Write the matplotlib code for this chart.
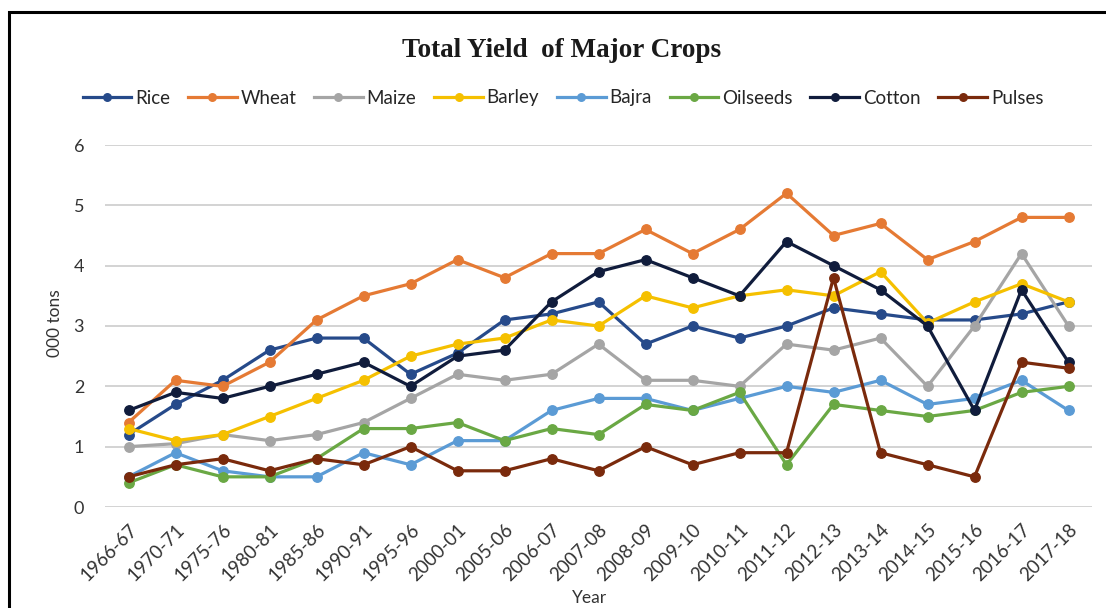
import matplotlib
matplotlib.use("Agg")
import matplotlib.pyplot as plt
from matplotlib.patches import Rectangle

categories = ['1966-67', '1970-71', '1975-76', '1980-81', '1985-86', '1990-91',
              '1995-96', '2000-01', '2005-06', '2006-07', '2007-08', '2008-09',
              '2009-10', '2010-11', '2011-12', '2012-13', '2013-14', '2014-15',
              '2015-16', '2016-17', '2017-18']

rice = [1.2, 1.7, 2.1, 2.6, 2.8, 2.8, 2.2, 2.55, 3.1, 3.2, 3.4, 2.7, 3.0, 2.8,
        3.0, 3.3, 3.2, 3.1, 3.1, 3.2, 3.4]
wheat = [1.4, 2.1, 2.0, 2.4, 3.1, 3.5, 3.7, 4.1, 3.8, 4.2, 4.2, 4.6, 4.2, 4.6,
         5.2, 4.5, 4.7, 4.1, 4.4, 4.8, 4.8]
maize = [1.0, 1.05, 1.2, 1.1, 1.2, 1.4, 1.8, 2.2, 2.1, 2.2, 2.7, 2.1, 2.1, 2.0,
         2.7, 2.6, 2.8, 2.0, 3.0, 4.2, 3.0]
barley = [1.3, 1.1, 1.2, 1.5, 1.8, 2.1, 2.5, 2.7, 2.8, 3.1, 3.0, 3.5, 3.3, 3.5,
          3.6, 3.5, 3.9, 3.05, 3.4, 3.7, 3.4]
bajra = [0.5, 0.9, 0.6, 0.5, 0.5, 0.9, 0.7, 1.1, 1.1, 1.6, 1.8, 1.8, 1.6, 1.8,
         2.0, 1.9, 2.1, 1.7, 1.8, 2.1, 1.6]
oilseeds = [0.4, 0.7, 0.5, 0.5, 0.8, 1.3, 1.3, 1.4, 1.1, 1.3, 1.2, 1.7, 1.6, 1.9,
            0.7, 1.7, 1.6, 1.5, 1.6, 1.9, 2.0]
cotton = [1.6, 1.9, 1.8, 2.0, 2.2, 2.4, 2.0, 2.5, 2.6, 3.4, 3.9, 4.1, 3.8, 3.5,
          4.4, 4.0, 3.6, 3.0, 1.6, 3.6, 2.4]
pulses = [0.5, 0.7, 0.8, 0.6, 0.8, 0.7, 1.0, 0.6, 0.6, 0.8, 0.6, 1.0, 0.7, 0.9,
          0.9, 3.8, 0.9, 0.7, 0.5, 2.4, 2.3]

series = [
    ("Rice", rice, "#264a8a"),
    ("Wheat", wheat, "#e57a34"),
    ("Maize", maize, "#a5a5a5"),
    ("Barley", barley, "#f5c000"),
    ("Bajra", bajra, "#5b9bd5"),
    ("Oilseeds", oilseeds, "#6aa844"),
    ("Cotton", cotton, "#101c3c"),
    ("Pulses", pulses, "#7a2a0c"),
]

W, H = 1106, 608
fig = plt.figure(figsize=(W / 100, H / 100), dpi=100)
fig.patch.set_facecolor("white")

left, right, top, bottom = 105, 1092, 145, 507
ax = fig.add_axes([left / W, 1 - bottom / H, (right - left) / W, (bottom - top) / H])

x = list(range(len(categories)))
for name, vals, col in series:
    ax.plot(x, vals, color=col, lw=2.3, marker="o", markersize=6.8,
            markerfacecolor=col, markeredgecolor=col, label=name, zorder=3)

ax.set_xlim(-0.5, len(categories) - 0.5)
ax.set_ylim(0, 6)
ax.set_yticks(range(0, 7))
ax.grid(axis="y", color="#d0d0d0", lw=1.3, zorder=0)
ax.set_axisbelow(True)
for s in ax.spines.values():
    s.set_visible(False)

font = "Lato"
ax.tick_params(axis="both", length=0, colors="#333333")
ax.tick_params(axis="y", pad=15)
ax.tick_params(axis="x", pad=10)
ax.set_xticks(x)
ax.set_xticklabels(categories, rotation=45, ha="right", rotation_mode="anchor",
                   fontsize=13.5, family=font, color="#333333")
for t in ax.get_yticklabels():
    t.set_fontsize(13)
    t.set_family(font)

fig.text(55 / W, 1 - 323 / H, "000 tons", rotation=90, ha="center", va="center",
         fontsize=12.5, family=font, color="#333333")
fig.text(590 / W, 1 - 598 / H, "Year", ha="center", va="center",
         fontsize=12.5, family=font, color="#333333")

fig.text(562 / W, 1 - 57 / H, "Total Yield  of Major Crops", ha="center", va="baseline",
         fontsize=19.5, fontweight="bold", family="Liberation Serif", color="#1a1a1a")

handles, labels = ax.get_legend_handles_labels()
leg = fig.legend(handles, labels, loc="center", ncol=8,
                 bbox_to_anchor=(563 / W, 1 - 98 / H), frameon=False,
                 prop={"family": font, "size": 13.5}, handlelength=2.6,
                 handletextpad=0.2, columnspacing=0.95, markerscale=0.8)
for t in leg.get_texts():
    t.set_color("#262626")

# outer frame (left and top edges visible)
fig.patches.append(Rectangle((9 / W, -0.1), 1.2, 1.1 - 12 / H, transform=fig.transFigure,
                             fill=False, edgecolor="black", lw=2.2, zorder=10))

fig.savefig("out.png", dpi=100, facecolor="white")
